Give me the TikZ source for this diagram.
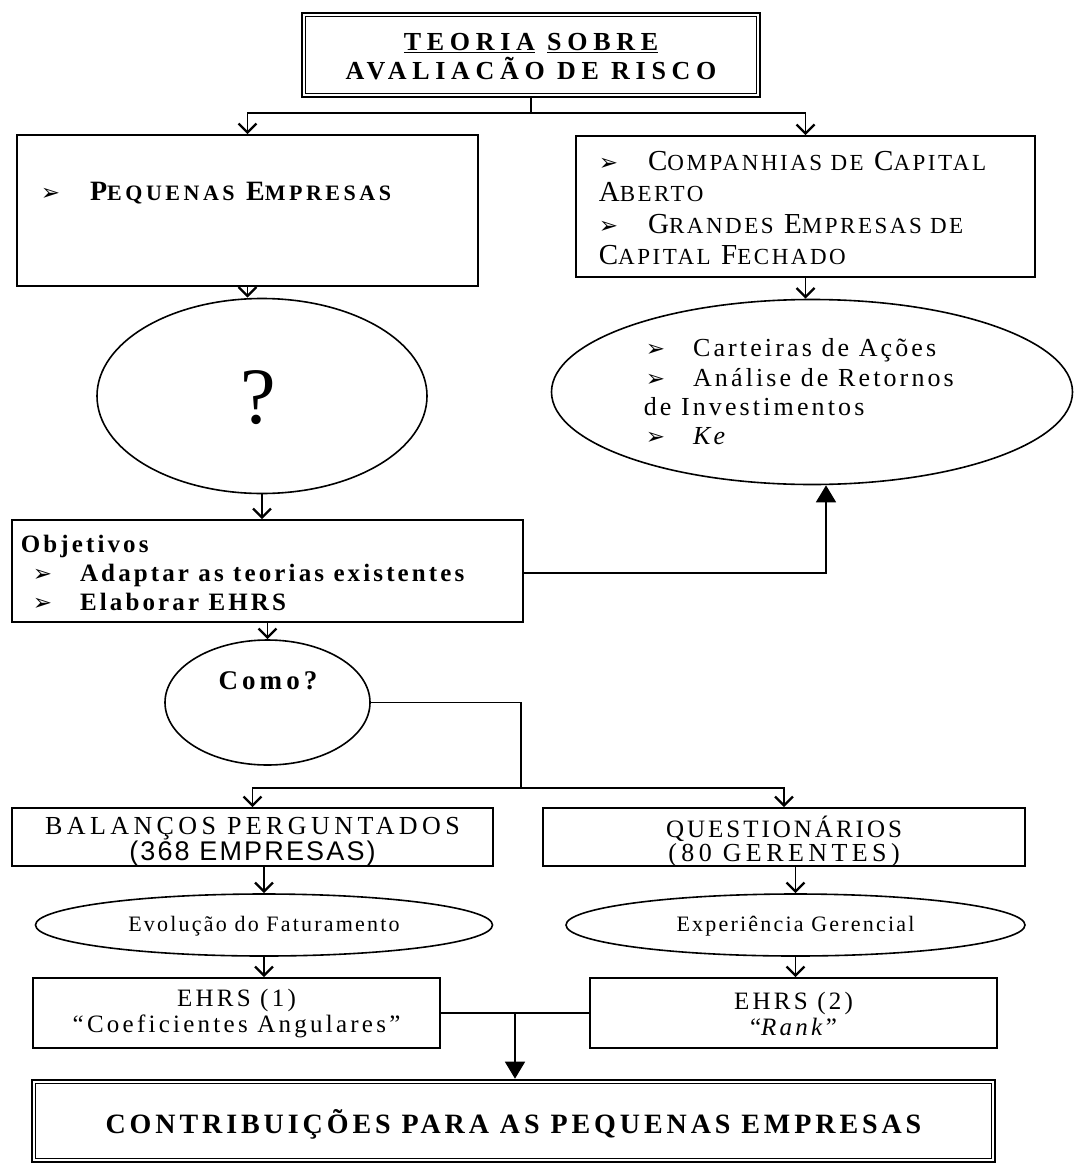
\documentclass[tikz,border=0pt]{standalone}
\usepackage{fontspec}
\setmainfont{Liberation Serif}
\newfontfamily\dvfont{DejaVu Sans}
\newfontfamily\sansfont{Liberation Sans}
\usetikzlibrary{shapes.geometric,arrows.meta}
\newcommand\bul{{\dvfont\fontsize{23}{23}\selectfont ➢}}
\newcommand\scx[2]{{\fontsize{#1}{#1}\selectfont #2}}
\newcommand\ls[1]{\addfontfeature{LetterSpace=#1}}
\begin{document}
\begin{tikzpicture}[x=1pt,y=-1pt,line width=1.6pt,
  box/.style={draw,inner sep=0pt},
  dbl/.style={draw,line width=2.6pt,inner sep=0pt},
  inner/.style={line width=1.2pt},
  ell/.style={draw,ellipse,inner sep=0pt},
  txt/.style={inner sep=0pt,align=left},
  arr/.style={-{Straight Barb[length=9pt,width=18pt,line width=2.4pt]}},
  farr/.style={-{Triangle[length=17pt,width=20pt]}}]
\fill[white] (0,0) rectangle (1074,1164);
\useasboundingbox (0,0) rectangle (1074,1164);

% boxes and ellipses
\node[dbl,minimum width=458pt,minimum height=84pt] (top) at (531,55) {};
\draw[inner] ([shift={(5,5)}]top.north west) rectangle ([shift={(-5,-5)}]top.south east);
\node[box,minimum width=461pt,minimum height=151pt] (pe) at (247.5,210.5) {};
\node[box,minimum width=459pt,minimum height=141pt] (ca) at (805.5,206.5) {};
\node[ell,minimum width=330pt,minimum height=195pt] (q) at (262,396) {};
\node[ell,minimum width=521pt,minimum height=185pt] (inv) at (812,392) {};
\node[box,minimum width=511pt,minimum height=102pt] (obj) at (267.5,571) {};
\node[ell,minimum width=205pt,minimum height=125pt] (como) at (267.5,702.5) {};
\node[box,minimum width=481pt,minimum height=58pt] (bal) at (252.5,837) {};
\node[box,minimum width=482pt,minimum height=58pt] (que) at (784,837) {};
\node[ell,minimum width=457pt,minimum height=62pt] (evo) at (264,925) {};
\node[ell,minimum width=459pt,minimum height=62pt] (exp) at (795.5,925) {};
\node[box,minimum width=407pt,minimum height=70pt] (e1) at (236.5,1013) {};
\node[box,minimum width=407pt,minimum height=70pt] (e2) at (793.5,1013) {};
\node[dbl,minimum width=963pt,minimum height=82pt] (con) at (513.5,1121) {};
\draw[inner] ([shift={(5,5)}]con.north west) rectangle ([shift={(-5,-5)}]con.south east);

% texts
\node[txt,align=center,font={\bfseries\ls{22}\fontsize{26}{29}\selectfont}] (toptxt) at (531,57)
 {\underline{TEORIA} \underline{SOBRE}\\AVALIACÃO DE RISCO};
\node[txt,anchor=west] (petxt) at (40,193)
 {\bul\hspace{30pt}{\bfseries\ls{16}\fontsize{28}{30}\selectfont P\scx{22}{EQUENAS} E\scx{22}{MPRESAS}}};
\node[txt,anchor=north west,font={\ls{11}\fontsize{29}{31.5}\selectfont}] (catxt) at (598,150)
 {\bul\hspace{30pt}C\scx{23}{OMPANHIAS DE} C\scx{23}{APITAL}\\
  A\scx{23}{BERTO}\\
  \bul\hspace{30pt}G\scx{23}{RANDES} E\scx{23}{MPRESAS DE}\\
  C\scx{23}{APITAL} F\scx{23}{ECHADO}};
\node[txt] (qtxt) at (258,398) {\fontsize{80}{80}\selectfont ?};
\node[txt,anchor=north west,font={\ls{12}\fontsize{26}{29.3}\selectfont}] (invtxt) at (643,338)
 {\hspace{2pt}\bul\hspace{28pt}Carteiras de Ações\\
  \hspace{2pt}\bul\hspace{28pt}Análise de Retornos\\
  de Investimentos\\
  \hspace{2pt}\bul\hspace{28pt}\textit{Ke}};
\node[txt,anchor=north west,font={\bfseries\ls{12.5}\fontsize{25}{29}\selectfont}] (objtxt) at (20,534)
 {Objetivos\\
  \hspace{12pt}\bul\hspace{28pt}Adaptar as teorias existentes\\
  \hspace{12pt}\bul\hspace{28pt}Elaborar EHRS};
\node[txt,font={\bfseries\ls{15}\fontsize{27}{28}\selectfont}] (comotxt) at (268,681) {Como?};
\node[txt,align=center,font={\ls{17}\fontsize{26}{24}\selectfont}] (baltxt) at (252.5,842)
 {BALANÇOS PERGUNTADOS\\{\sansfont\ls{8}\fontsize{27}{24}\selectfont (368 EMPRESAS)}};
\node[txt,align=center,font={\ls{12}\fontsize{25}{24}\selectfont}] (quetxt) at (784,842)
 {QUESTIONÁRIOS\\{\ls{17}\fontsize{26}{24}\selectfont(80 GERENTES)}};
\node[txt,font={\ls{10}\fontsize{22}{22}\selectfont}] (evotxt) at (264,926) {Evolução do Faturamento};
\node[txt,font={\ls{10}\fontsize{22}{22}\selectfont}] (exptxt) at (795.5,926) {Experiência Gerencial};
\node[txt,align=center,font={\ls{13}\fontsize{25}{26}\selectfont}] (e1txt) at (236.5,1014)
 {EHRS (1)\\“Coeficientes Angulares”};
\node[txt,align=center,font={\ls{13}\fontsize{25}{26}\selectfont}] (e2txt) at (793.5,1014)
 {EHRS (2)\\“\textit{Rank}”};
\node[txt,font={\bfseries\ls{14}\fontsize{28}{28}\selectfont}] (contxt) at (513.5,1124)
 {CONTRIBUIÇÕES PARA AS PEQUENAS EMPRESAS};

% connectors
\coordinate (j1) at (531,113);
\draw (top.south) -- (j1);
\draw[arr] (j1) -| (pe.north);
\draw[arr] (j1) -| (ca.north);
\draw[arr] (pe.south) -- (pe.south |- q.north);
\draw[arr] (ca.south) -- (ca.south |- inv.north);
\draw[arr] (q.south) -- (q.south |- obj.north);
\coordinate (j4) at (826,573);
\draw[farr] (obj.east |- j4) -| ([xshift=14pt]inv.south);
\draw[arr] (obj.south) -- (obj.south |- como.north);
\coordinate (j2) at (521,788);
\draw (como.east) -| (j2);
\draw[arr] (j2) -| (bal.north);
\draw[arr] (j2) -| (que.north);
\draw[arr] (evo.north |- bal.south) -- (evo.north);
\draw[arr] (exp.north |- que.south) -- (exp.north);
\draw[arr] (evo.south) -- (evo.south |- e1.north);
\draw[arr] (exp.south) -- (exp.south |- e2.north);
\coordinate (j3) at (515,1013);
\draw (e1.east) -- (e2.west);
\draw[farr] (j3) -- (j3 |- con.north);
\end{tikzpicture}
\end{document}
